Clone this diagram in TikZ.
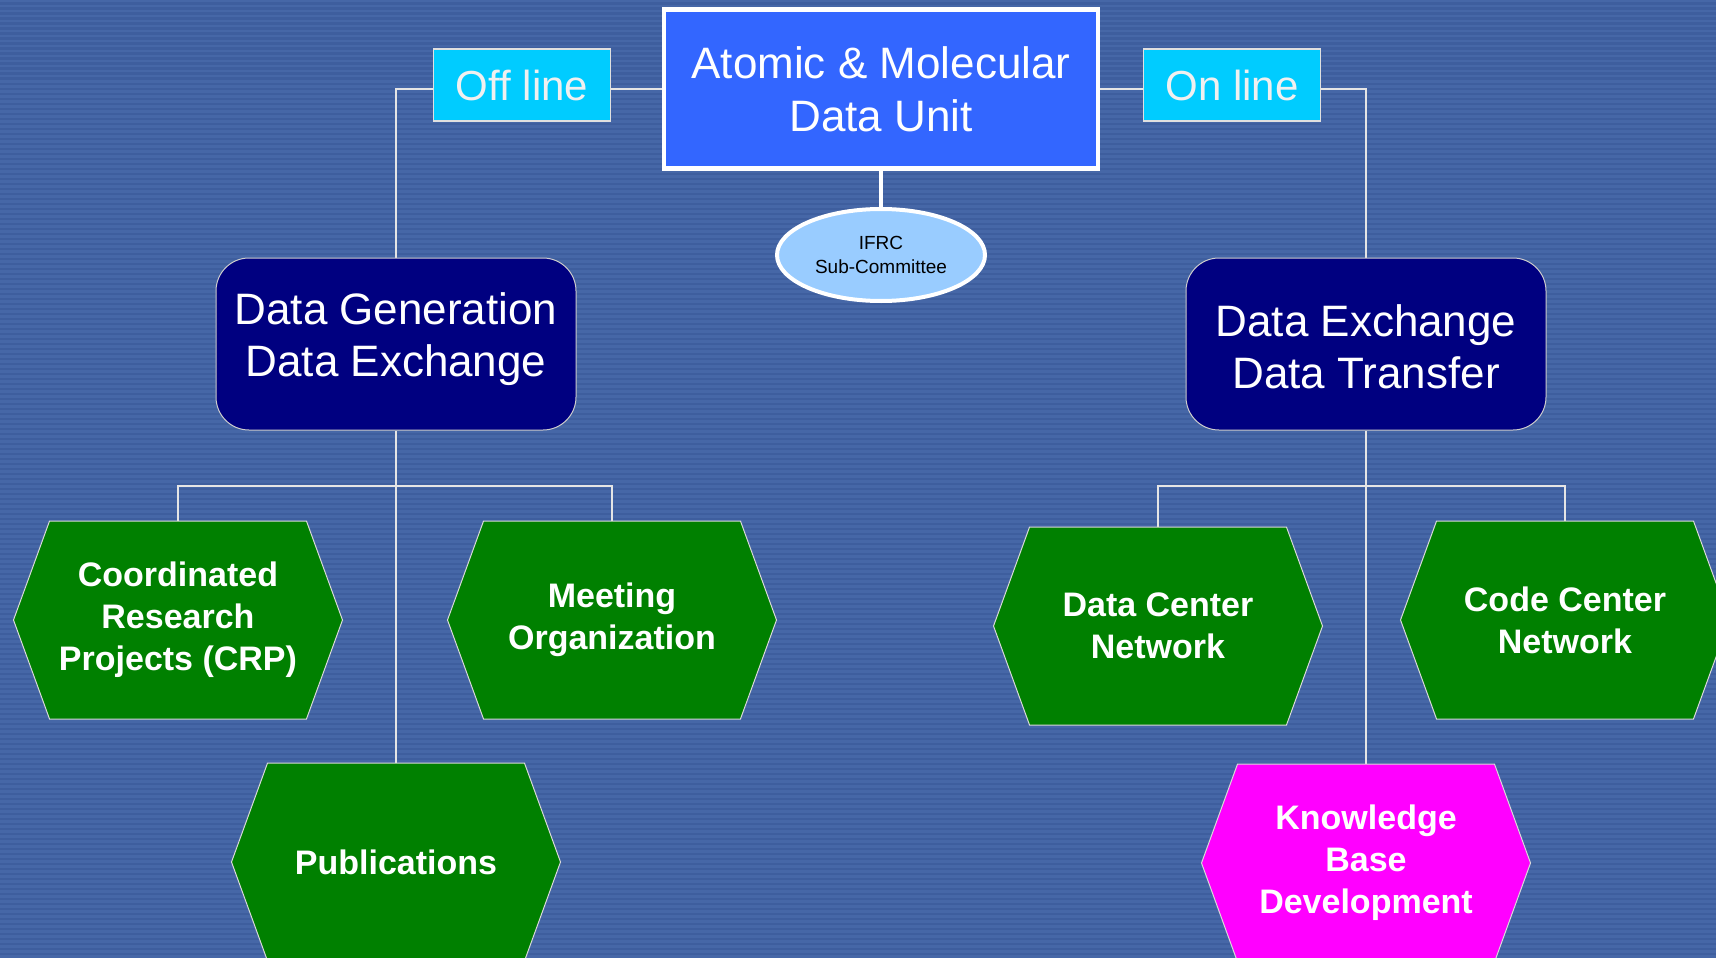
\documentclass[tikz,border=0pt]{standalone}
\usepackage{fontspec}
\setmainfont{Liberation Sans}
\usepackage{xcolor}
\usepackage{tikz}
\usetikzlibrary{shapes.geometric, shapes.symbols, positioning, backgrounds}

\definecolor{slideblue}{RGB}{62,94,158}
\definecolor{slidestripe}{RGB}{70,103,167}
\definecolor{unitblue}{RGB}{51,102,255}
\definecolor{tagcyan}{RGB}{0,204,255}
\definecolor{areanavy}{RGB}{0,0,128}
\definecolor{taskgreen}{RGB}{0,128,0}
\definecolor{taskpink}{RGB}{255,0,255}
\definecolor{ifrcblue}{RGB}{153,204,255}

\newcommand{\arealines}[3]{\raisebox{#1}[0pt][0pt]{\begin{tabular}{@{}c@{}}#2\\#3\end{tabular}}}

\begin{document}
\begin{tikzpicture}[x=1pt, y=-1pt,
    unitbox/.style={draw=white, line width=4.5pt, fill=unitblue, text=white, minimum width=434pt, minimum height=159pt, align=center, font=\fontsize{44}{53}\selectfont},
    tagbox/.style={draw=white!88!black, line width=1.5pt, fill=tagcyan, text=white!94!black, minimum width=177pt, minimum height=72pt, font=\fontsize{42}{50}\selectfont},
    areabox/.style={draw=white!80!black, line width=1pt, fill=areanavy, text=white, rounded corners=33pt, minimum width=360pt, minimum height=172pt, inner sep=0pt, font=\fontsize{44}{52}\selectfont},
    taskhex/.style={signal, signal to=west and east, signal pointer angle=140, draw=white!85!black, line width=1pt, fill=taskgreen, text=white, minimum width=329pt, minimum height=198pt, inner sep=0pt, align=center, font=\bfseries\fontsize{34}{42}\selectfont},
    link/.style={draw=white!90!black, line width=1.3pt}]

    \useasboundingbox (0,0) rectangle (1716,958);
    \clip (0,0) rectangle (1716,958);
    \begin{scope}[on background layer]
        \fill[slideblue] (0,0) rectangle (1716,958);
        \foreach \y in {0,5,...,955} \fill[slidestripe] (0,\y) rectangle (1716,\y+2.5);
    \end{scope}

    \node[unitbox] (unit) at (881,89) {Atomic \& Molecular\\Data Unit};
    \node[tagbox] (offline) at (522,85) {Off line};
    \node[tagbox] (online) at (1232,85) {On line};
    \node[ellipse, draw=white, line width=4pt, fill=ifrcblue, minimum width=208pt, minimum height=92pt, align=center, font=\fontsize{19}{24}\selectfont] (ifrc) at (881,255) {IFRC\\Sub-Committee};

    \node[areabox] (gen) at (396,344) {\arealines{-2.5pt}{Data Generation}{Data Exchange}};
    \node[areabox] (xfer) at (1366,344) {\arealines{-14.5pt}{Data Exchange}{Data Transfer}};

    \node[taskhex] (crp) at (178,620) {Coordinated\\Research\\Projects (CRP)};
    \node[taskhex] (meet) at (612,620) {Meeting\\Organization};
    \node[taskhex] (pub) at (396,862) {Publications};
    \node[taskhex] (dcn) at (1158,626) {Data Center\\Network};
    \node[taskhex] (ccn) at (1565,620) {Code Center\\Network};
    \node[taskhex, fill=taskpink] (kb) at (1366,863) {Knowledge\\Base\\Development};

    \coordinate (ljoin) at (396,486);
    \coordinate (rjoin) at (1366,486);

    \begin{scope}[on background layer]
        \draw[link] (unit.west) -| (gen.north);
        \draw[link] (unit.east) -| (xfer.north);
        \draw[white, line width=4pt] (unit.south) -- (ifrc.north);
        \draw[link] (gen.south) -- (pub.north);
        \draw[link] (crp.north) |- (ljoin) -| (meet.north);
        \draw[link] (xfer.south) -- (kb.north);
        \draw[link] (dcn.north) |- (rjoin) -| (ccn.north);
    \end{scope}
\end{tikzpicture}
\end{document}
